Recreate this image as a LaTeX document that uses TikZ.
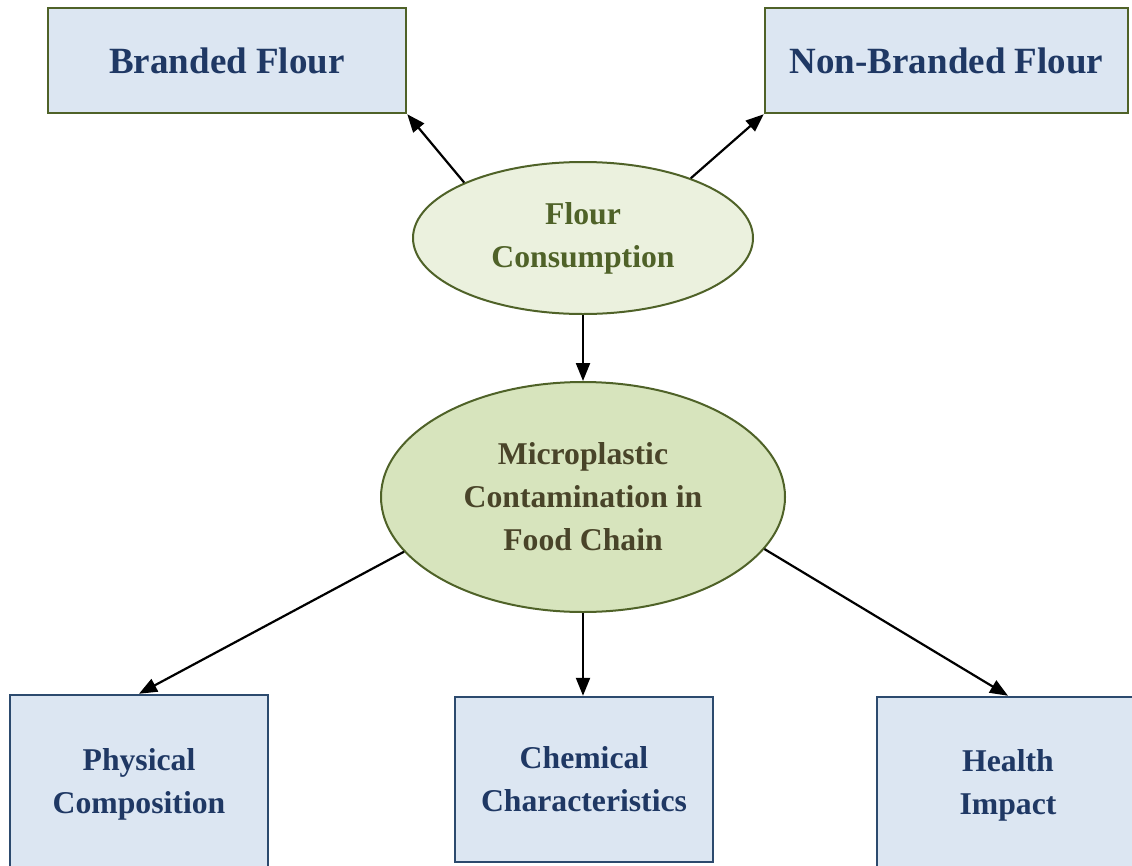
\documentclass[tikz,border=0pt]{standalone}
\usepackage{fontspec}
\setmainfont{Liberation Serif}
\usetikzlibrary{shapes.geometric,arrows.meta}
\definecolor{boxfill}{HTML}{DCE6F2}
\definecolor{boxtext}{HTML}{1F3864}
\definecolor{boxline}{HTML}{2C4A6E}
\definecolor{flourline}{HTML}{4F6228}
\definecolor{flourfill}{HTML}{EBF1DE}
\definecolor{chainfill}{HTML}{D7E4BD}
\definecolor{chaintext}{HTML}{494429}

\begin{document}
\begin{tikzpicture}[x=1pt,y=-1pt,
  topbox/.style={draw=flourline,line width=2.5pt,fill=boxfill,text=boxtext,
    font=\fontsize{37}{44}\selectfont\bfseries,minimum height=105pt,inner sep=0pt},
  lowbox/.style={draw=boxline,line width=2.5pt,fill=boxfill,text=boxtext,
    font=\fontsize{31.7}{43}\selectfont\bfseries,minimum width=258pt,
    minimum height=170pt,align=center,inner sep=0pt},
  oval/.style={ellipse,draw=flourline,line width=2pt,align=center,inner sep=0pt,
    font=\fontsize{31.7}{43}\selectfont\bfseries},
  arr/.style={line width=2.2pt,-{Triangle[length=18pt,width=14pt]}}]
          \clip (0,0) rectangle (1132,865);
          % top boxes
          \node[topbox,minimum width=358pt] (bf) at (227,60.5) {Branded Flour};
          \node[topbox,minimum width=363pt] (nbf) at (946.5,60.5) {Non-Branded Flour};
          % ellipses
          \node[oval,fill=flourfill,text=flourline,minimum width=340pt,minimum height=152pt] (fc) at (583,238) {Flour\\Consumption};
          \node[oval,fill=chainfill,text=chaintext,minimum width=404pt,minimum height=230pt] (mc) at (583,497) {Microplastic\\Contamination in\\Food Chain};
          % bottom boxes
          \node[lowbox,minimum height=178pt] (pc) at (139,784) {Physical\\Composition};
          \node[lowbox,minimum height=165pt] (cc) at (584,779.5) {Chemical\\Characteristics};
          \node[lowbox,minimum width=262pt,minimum height=176pt] (hi) at (1008,785) {Health\\Impact};
          % arrows
          \draw[arr] (fc.155) -- (bf.south east);
          \draw[arr] (fc.29) -- (nbf.south west);
          \draw[arr] (fc.south) -- (mc.north);
          \draw[arr] (mc.197) -- (pc.north);
          \draw[arr] (mc.south) -- (mc.south |- cc.north);
          \draw[arr] (mc.344) -- (hi.north);
\end{tikzpicture}
\end{document}
